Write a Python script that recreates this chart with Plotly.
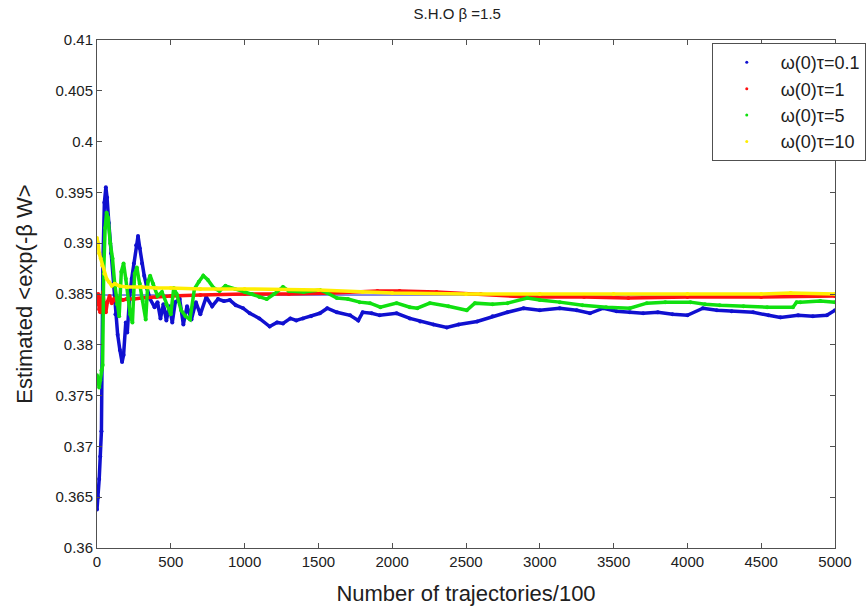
import plotly.graph_objects as go

# ---- data ----
series_names = ["ω(0)τ=0.1", "ω(0)τ=1", "ω(0)τ=5", "ω(0)τ=10"]
series_colors = ["#1010d0", "#ff1010", "#10e010", "#ffee00"]

blue_pts = [(0,0.3638),(8,0.3650),(15,0.3668),(22,0.3690),(30,0.3715),(40,0.3880),(50,0.3940),
            (60,0.3955),(68,0.3945),(80,0.3920),(95,0.3890),(110,0.3860),(125,0.3830),(140,0.3810),
            (155,0.3795),(170,0.3783),(180,0.3790),(195,0.3822),(205,0.3812),(220,0.3845),(235,0.3865),
            (250,0.3880),(265,0.3898),(278,0.3907),(290,0.3895),(305,0.3880),(320,0.3868),(340,0.3855),
            (360,0.3845),(390,0.3837),(410,0.3842),(430,0.3826),(450,0.3840),(470,0.3824),(490,0.3838),
            (510,0.3822),(530,0.3842),(560,0.3845),(585,0.3820),(610,0.3838),(640,0.3825),(670,0.3842),
            (700,0.3830),(740,0.3847),(780,0.3838),(820,0.3845),(860,0.3843),(900,0.3844),(940,0.3839),
            (990,0.3836),(1035,0.3831),(1100,0.3826),(1170,0.3818),(1220,0.3822),(1260,0.3821),
            (1310,0.3826),(1350,0.3824),(1395,0.3826),(1450,0.3828),(1510,0.3831),(1560,0.3836),
            (1625,0.3832),(1715,0.3829),(1770,0.3824),(1800,0.3832),(1860,0.3831),(1915,0.3829),
            (2030,0.3831),(2120,0.3826),(2190,0.3823),(2280,0.3820),(2370,0.3817),(2450,0.3820),
            (2575,0.3823),(2680,0.3828),(2780,0.3832),(2890,0.3836),(3000,0.3834),(3135,0.3836),
            (3250,0.3834),(3340,0.3831),(3430,0.3836),(3520,0.3833),(3610,0.3832),(3700,0.3831),
            (3800,0.3832),(3900,0.3830),(4000,0.3829),(4105,0.3836),(4200,0.3834),(4300,0.3833),
            (4445,0.3832),(4550,0.3829),(4630,0.3827),(4750,0.3829),(4850,0.3828),(4945,0.3829),
            (5000,0.3834)]

red_pts = [(0,0.3840),(8,0.3850),(15,0.3835),(22,0.3832),(30,0.3845),(40,0.3852),(50,0.3838),
           (60,0.3832),(70,0.3842),(85,0.3848),(100,0.3841),(115,0.3845),(130,0.3843),(150,0.3846),
           (175,0.3844),(200,0.3845),(250,0.3845),(300,0.3846),(400,0.3847),(500,0.3848),(700,0.3849),
           (1000,0.3850),(1300,0.3850),(1600,0.3851),(1900,0.3853),(2050,0.3853),(2300,0.3852),
           (2600,0.3850),(2930,0.3847),(3300,0.3847),(3600,0.3846),(4000,0.3847),(4500,0.3847),
           (5000,0.3848)]

green_pts = [(0,0.3770),(8,0.3762),(15,0.3758),(22,0.3765),(30,0.3775),(38,0.3780),(45,0.3870),
             (55,0.3915),(65,0.3930),(75,0.3925),(90,0.3900),(105,0.3885),(120,0.3860),(135,0.3840),
             (150,0.3828),(165,0.3872),(180,0.3880),(195,0.3865),(210,0.3845),(225,0.3830),(240,0.3822),
             (255,0.3870),(270,0.3876),(290,0.3860),(310,0.3843),(330,0.3825),(345,0.3862),(360,0.3868),
             (380,0.3860),(410,0.3848),(440,0.3852),(470,0.3840),(500,0.3830),(520,0.3856),(540,0.3850),
             (570,0.3834),(600,0.3828),(630,0.3825),(660,0.3855),(690,0.3862),(720,0.3868),(750,0.3864),
             (790,0.3856),(830,0.3853),(870,0.3858),(935,0.3855),(1000,0.3852),(1050,0.3850),
             (1100,0.3847),(1150,0.3845),(1200,0.3850),(1260,0.3857),(1300,0.3853),(1400,0.3852),
             (1510,0.3854),(1560,0.3851),(1625,0.3846),(1700,0.3845),(1780,0.3842),(1850,0.3841),
             (1920,0.3837),(2030,0.3841),(2120,0.3837),(2170,0.3836),(2255,0.3841),(2380,0.3838),
             (2505,0.3834),(2560,0.3841),(2680,0.3840),(2780,0.3841),(2915,0.3846),(3000,0.3844),
             (3135,0.3842),(3290,0.3839),(3450,0.3837),(3610,0.3836),(3725,0.3841),(3850,0.3842),
             (4020,0.3842),(4120,0.3840),(4220,0.3839),(4380,0.3838),(4540,0.3837),(4715,0.3837),
             (4740,0.3842),(4765,0.3842),(4900,0.3843),(5000,0.3842)]

yellow_pts = [(0,0.3905),(8,0.3900),(15,0.3890),(25,0.3885),(35,0.3878),(50,0.3870),(65,0.3865),
              (80,0.3862),(100,0.3858),(120,0.3860),(150,0.3858),(200,0.3857),(300,0.3857),
              (400,0.3856),(500,0.3856),(700,0.3855),(1000,0.3855),(1500,0.3854),(1800,0.3852),
              (2000,0.3851),(2500,0.3850),(3000,0.3850),(3500,0.3850),(4000,0.3850),(4500,0.3850),
              (4700,0.3851),(5000,0.3850)]

reference_level = 0.3849
x_range = [0, 5000]
y_range = [0.36, 0.41]
x_ticks = [0, 500, 1000, 1500, 2000, 2500, 3000, 3500, 4000, 4500, 5000]
y_ticks = [0.36, 0.365, 0.37, 0.375, 0.38, 0.385, 0.39, 0.395, 0.4, 0.405, 0.41]
y_ticklabels = ["0.36", "0.365", "0.37", "0.375", "0.38", "0.385", "0.39", "0.395", "0.4", "0.405", "0.41"]

FONT = "Arial, Liberation Sans, sans-serif"

fig = go.Figure()

# thin reference line
fig.add_trace(go.Scatter(x=x_range, y=[reference_level, reference_level], mode="lines",
                         line=dict(color="#1010d0", width=1), showlegend=False, hoverinfo="skip"))

all_pts = [blue_pts, red_pts, green_pts, yellow_pts]
for pts, name, col in zip(all_pts, series_names, series_colors):
    xs = [p[0] for p in pts]
    ys = [p[1] for p in pts]
    fig.add_trace(go.Scatter(x=xs, y=ys, mode="lines+markers", name=name, legendgroup=name,
                             line=dict(color=col, width=3.5),
                             marker=dict(color=col, size=4),
                             showlegend=False))

# legend entries (tiny dots, as in the original)
for name, col in zip(series_names, series_colors):
    fig.add_trace(go.Scatter(x=[None], y=[None], mode="markers", name=name, legendgroup=name,
                             marker=dict(color=col, size=3)))

axis_common = dict(showline=True, linecolor="#505050", linewidth=1, mirror="ticks",
                   ticks="inside", ticklen=5, tickcolor="#505050", showgrid=False, zeroline=False,
                   tickfont=dict(family=FONT, size=15, color="#202020"))

fig.update_layout(
    width=866, height=612,
    margin=dict(l=97, r=31, t=40, b=64, autoexpand=False),
    paper_bgcolor="white", plot_bgcolor="white",
    title=dict(text="S.H.O β =1.5", x=0.528, xanchor="center", y=0.977, yanchor="middle",
               font=dict(family=FONT, size=15, color="#202020")),
    xaxis=dict(range=x_range, tickvals=x_ticks, **axis_common,
               title=dict(text="Number of trajectories/100", standoff=16,
                          font=dict(family=FONT, size=22, color="#202020"))),
    yaxis=dict(range=y_range, tickvals=y_ticks, ticktext=y_ticklabels, **axis_common,
               title=dict(text="Estimated <exp(-β W>", standoff=16,
                          font=dict(family=FONT, size=22, color="#202020"))),
    legend=dict(x=0.833, y=0.994, xanchor="left", yanchor="top", bgcolor="white",
                bordercolor="#505050", borderwidth=1,
                font=dict(family=FONT, size=18, color="#202020"),
                itemwidth=58, tracegroupgap=0),
    showlegend=True,
)

fig.write_html("out.html")
